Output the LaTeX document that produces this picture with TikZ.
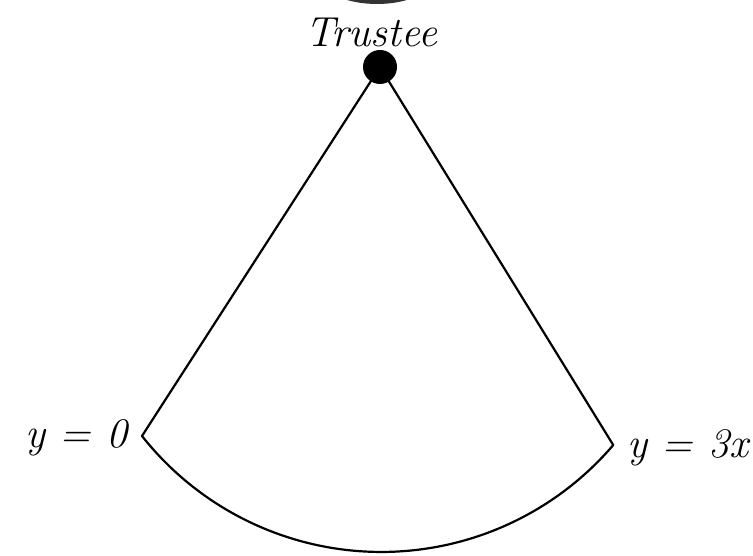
\documentclass[tikz,border=0pt]{standalone}
\begin{document}
\begin{tikzpicture}[x=1pt,y=1pt,
  lbl/.style={inner sep=0pt,font=\fontsize{42}{50}\selectfont\itshape},
  edge/.style={line width=2.2pt,line join=round}]
\fill[white] (0,0) rectangle (753,556);
\useasboundingbox (0,0) rectangle (753,556);
% partial shape cut off at top
\begin{scope}
\clip (0,0) rectangle (753,556);
\fill[black!80] (377,575) ellipse[x radius=53pt,y radius=23pt];
\end{scope}
% nodes
\node[circle,fill=black,inner sep=0pt,minimum size=34pt] (trustee) at (380,489) {};
\coordinate (A) at (142,120);
\coordinate (B) at (613,111);
\draw[edge] (trustee.center) -- (A) arc[start angle=218.3,end angle=319.5,radius=305pt] -- (trustee.center);
% labels
\node[lbl,anchor=base] (tl) at (371,509) {Trustee};
\node[lbl,anchor=base west] (l0) at (25,108) {y = 0};
\node[lbl,anchor=base west] (l1) at (627,98) {y = 3x};
\end{tikzpicture}
\end{document}
